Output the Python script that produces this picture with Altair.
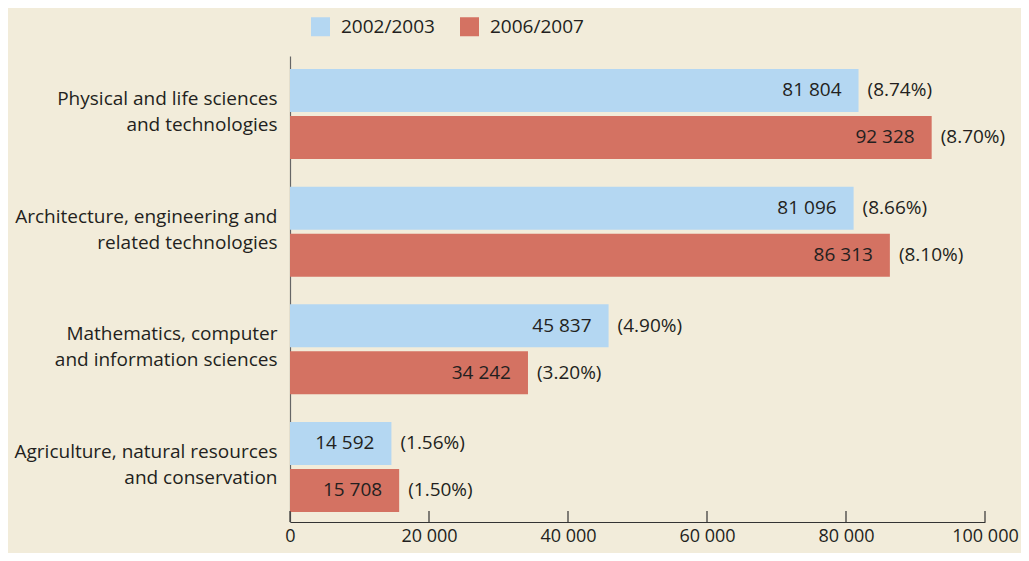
import altair as alt
import pandas as pd

categories = [
    "Physical and life sciences|and technologies",
    "Architecture, engineering and|related technologies",
    "Mathematics, computer|and information sciences",
    "Agriculture, natural resources|and conservation",
]
years = ["2002/2003", "2006/2007"]
values_2002 = [81804, 81096, 45837, 14592]
values_2006 = [92328, 86313, 34242, 15708]
pct_2002 = ["(8.74%)", "(8.66%)", "(4.90%)", "(1.56%)"]
pct_2006 = ["(8.70%)", "(8.10%)", "(3.20%)", "(1.50%)"]
x_ticks = [0, 20000, 40000, 60000, 80000, 100000]

BG = "#F2ECDA"
BLUE = "#B4D7F2"
RED = "#D47262"
TXT = "#231F20"
FONT = "Open Sans"
FS = 19
W, H = 695, 466

rows = []
for i, c in enumerate(categories):
    for y, vals, pcts in ((years[0], values_2002, pct_2002), (years[1], values_2006, pct_2006)):
        v = vals[i]
        rows.append({"category": c, "year": y, "value": v,
                     "label": f"{v:,}".replace(",", " "), "pct": pcts[i]})
df = pd.DataFrame(rows)
ticks_df = pd.DataFrame({"value": x_ticks})

xscale = alt.Scale(domain=[0, 100000], nice=False)

base = alt.Chart(df).encode(
    y=alt.Y("category:N", sort=categories,
            scale=alt.Scale(paddingInner=0.235, paddingOuter=0.0977, align=0.565),
            axis=alt.Axis(title=None, labelExpr="split(datum.label, '|')",
                          ticks=False, domain=True, domainColor="#666666",
                          domainWidth=1.2, labelPadding=13, labelFontSize=FS,
                          labelLineHeight=26, labelLimit=0, labelColor=TXT,
                          labelFont=FONT, labelOffset=-15)),
    yOffset=alt.YOffset("year:N", sort=years,
                        scale=alt.Scale(paddingInner=0.085, paddingOuter=0)),
)

bars = base.mark_bar().encode(
    x=alt.X("value:Q", scale=xscale,
            axis=alt.Axis(title=None, values=x_ticks, tickSize=0, grid=False,
                          labelExpr="replace(format(datum.value, ','), ',', ' ')",
                          labelFontSize=18, labelColor=TXT, labelFont=FONT,
                          labelPadding=5, domainColor="#333333", domainWidth=1.2,
                          labelFlush=False)),
    color=alt.Color("year:N", scale=alt.Scale(domain=years, range=[BLUE, RED]),
                    legend=alt.Legend(title=None, orient="none", legendX=21, legendY=-39,
                                      direction="horizontal", symbolType="square",
                                      symbolSize=361, symbolStrokeWidth=0, symbolOpacity=1,
                                      labelFontSize=FS, labelFont=FONT, labelColor=TXT,
                                      labelOffset=11, columnPadding=25, padding=0)),
)

vals = base.mark_text(align="right", dx=-17, fontSize=FS, font=FONT, color=TXT).encode(
    x=alt.X("value:Q", scale=xscale), text="label:N")
pcts = base.mark_text(align="left", dx=9, fontSize=FS, font=FONT, color=TXT).encode(
    x=alt.X("value:Q", scale=xscale), text="pct:N")

tick_marks = alt.Chart(ticks_df).mark_rule(color="#333333", strokeWidth=1.2).encode(
    x=alt.X("value:Q", scale=xscale),
    y=alt.value(H - 11), y2=alt.value(H))

chart = alt.layer(bars, vals, pcts, tick_marks).properties(
    width=W, height=H,
    autosize=alt.AutoSizeParams(type="none"),
    padding={"left": 282, "top": 48, "right": 1013 - 282 - W, "bottom": 545 - 48 - H},
    background=BG,
).configure_view(stroke=None)

chart.save("out.html", embed_options={"renderer": "svg", "actions": False})
